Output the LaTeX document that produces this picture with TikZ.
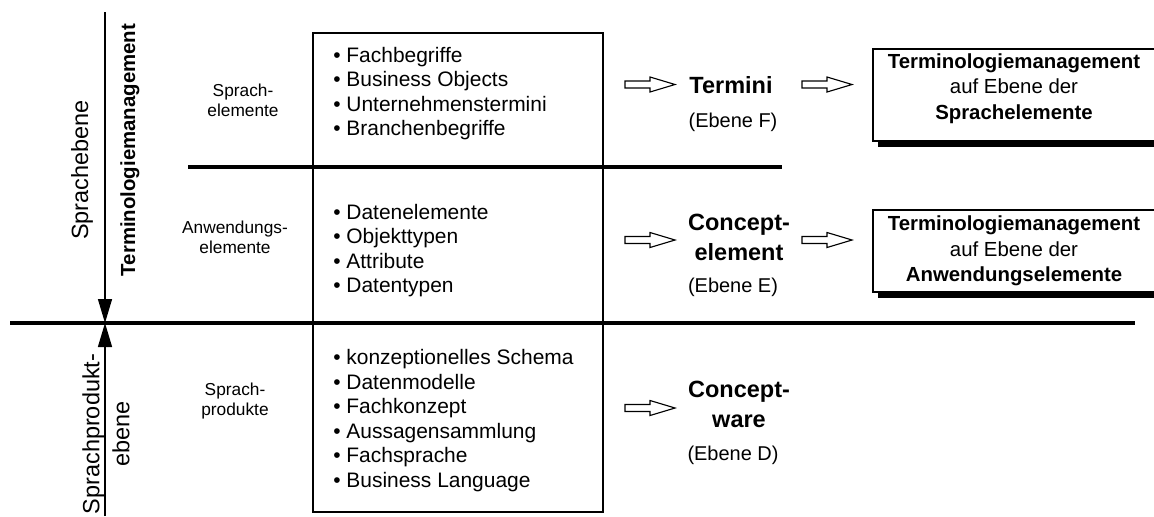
\documentclass[tikz,border=0pt]{standalone}
\usepackage{fontspec}
\setmainfont{Liberation Sans}
\usetikzlibrary{arrows.meta,shadows}

\begin{document}
\begin{tikzpicture}[x=0.025cm, y=-0.025cm,
  liste/.style={anchor=west, align=left, inner sep=0pt, font=\fontsize{14.9}{17.4}\selectfont},
  klein/.style={align=center, inner sep=0pt, font=\fontsize{12.3}{14.2}\selectfont},
  ebene/.style={inner sep=0pt, font=\fontsize{14.2}{17}\selectfont},
  begriff/.style={align=center, inner sep=0pt, font=\bfseries\fontsize{16.7}{21.3}\selectfont},
  seite/.style={rotate=90, align=center, inner sep=0pt, font=\fontsize{16.7}{21.3}\selectfont},
  pfeil/.pic={\draw[line width=0.8pt, line join=miter] (-25,-3.5) -- (0,-3.5) -- (0,-7.5) -- (25,0)
    -- (0,7.5) -- (0,3.5) -- (-25,3.5) -- cycle;},
  tmbox/.style={draw, fill=white, line width=1pt, minimum width=7.05cm, align=center,
    font=\fontsize{14.5}{18}\selectfont,
    general shadow={fill=black, shadow xshift=0.125cm, shadow yshift=-0.15cm}},
  dick/.style={line width=2.2pt},
  duenn/.style={line width=1pt}]
\clip (0,0) rectangle (1154,516);

\coordinate (oben) at (105,12);
\coordinate (kreuz) at (105,323);
\coordinate (unten) at (105,516);
\coordinate (linksA) at (10,323);
\coordinate (rechtsA) at (1135,323);
\coordinate (linksB) at (188,167);
\coordinate (rechtsB) at (782,167);

\draw[dick] (linksA) -- (rechtsA);
\draw[dick] (linksB) -- (rechtsB);
\draw[duenn, -{Triangle[length=0.6cm, width=0.35cm]}] (oben) -- (kreuz);
\draw[duenn, -{Triangle[length=0.6cm, width=0.35cm]}] (unten) -- (kreuz);
\draw[duenn] (313,33) rectangle (603,512);

\node[seite] (sprachebene) at (82,170) {Sprachebene};
\node[seite, font=\bfseries\fontsize{14.5}{17}\selectfont] (termMgmt) at (130,150) {Terminologiemanagement};
\node[seite] (produktebene) at (106,434) {Sprachprodukt-\\ebene};

\node[klein] (sprachEl) at (243,100) {Sprach-\\elemente};
\node[klein] (anwEl) at (235,237) {Anwendungs-\\elemente};
\node[klein] (sprachProd) at (235,401) {Sprach-\\produkte};

\node[liste] (listeF) at (333,93.5) {\textbullet\ Fachbegriffe\\ \textbullet\ Business Objects\\
  \textbullet\ Unternehmenstermini\\ \textbullet\ Branchenbegriffe};
\node[liste] (listeE) at (333,250.5) {\textbullet\ Datenelemente\\ \textbullet\ Objekttypen\\
  \textbullet\ Attribute\\ \textbullet\ Datentypen};
\node[liste] (listeD) at (333,420.5) {\textbullet\ konzeptionelles Schema\\ \textbullet\ Datenmodelle\\
  \textbullet\ Fachkonzept\\ \textbullet\ Aussagensammlung\\ \textbullet\ Fachsprache\\
  \textbullet\ Business Language};

\pic (pfeilF) at (650,84.5) {pfeil};
\pic (pfeilE) at (650,240) {pfeil};
\pic (pfeilD) at (650,408) {pfeil};
\pic (pfeilTF) at (827,84.5) {pfeil};
\pic (pfeilTE) at (827,240) {pfeil};

\node[begriff] (termF) at (731,85) {Termini};
\node[ebene] (ebeneF) at (733,122) {(Ebene F)};
\node[begriff] (termE) at (739,237) {Concept-\\element};
\node[ebene] (ebeneE) at (733,287) {(Ebene E)};
\node[begriff] (termD) at (739,404) {Concept-\\ware};
\node[ebene] (ebeneD) at (733,455) {(Ebene D)};

\node[tmbox, minimum height=2.1cm] (tmF) at (1014,95)
  {\textbf{Terminologiemanagement}\\auf Ebene der\\\textbf{Sprachelemente}\\[-0.2cm]};
\node[tmbox, minimum height=2.05cm] (tmE) at (1014,251)
  {\textbf{Terminologiemanagement}\\auf Ebene der\\\textbf{Anwendungselemente}};
\end{tikzpicture}
\end{document}
